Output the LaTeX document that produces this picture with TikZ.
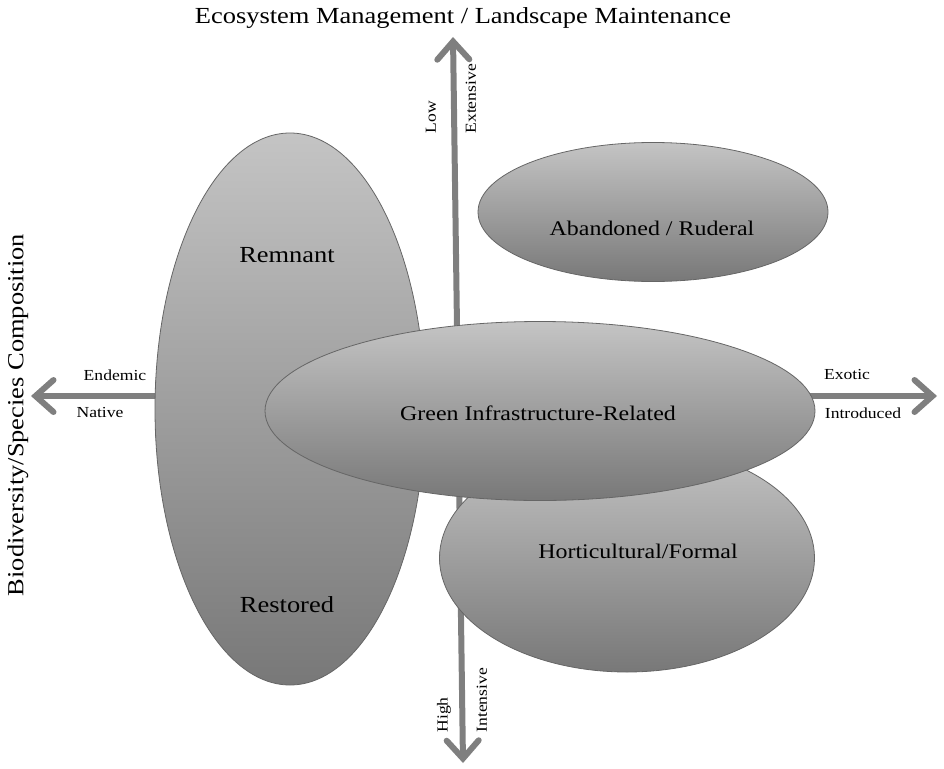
\documentclass[tikz,border=0pt]{standalone}
\usepackage{fontspec}
\setmainfont{Liberation Serif}[FakeStretch=1.15]
\usetikzlibrary{positioning, arrows.meta, shapes.geometric}
\definecolor{axisgray}{HTML}{7F7F7F}
\definecolor{blobtop}{HTML}{C4C4C4}
\definecolor{blobbottom}{HTML}{787878}
\definecolor{blobedge}{HTML}{666666}

\tikzset{
  axis/.style={line width=6pt, draw=axisgray, line cap=round,
    {Straight Barb[length=18pt, width=32pt, line cap=round]}-{Straight Barb[length=18pt, width=32pt, line cap=round]}},
  blob/.style={ellipse, draw=blobedge, line width=0.8pt,
    top color=blobtop, bottom color=blobbottom, inner sep=0pt},
  bigtag/.style={font=\fontsize{23}{26}\selectfont},
  tag/.style={font=\fontsize{20.8}{24}\selectfont},
  smalltag/.style={font=\fontsize{15.3}{18}\selectfont}
}

\begin{document}
\begin{tikzpicture}[x=1pt, y=-1pt]
  \useasboundingbox (0,0) rectangle (944,768);

  % axes
  \coordinate (west) at (31,396);
  \coordinate (east) at (937,396);
  \coordinate (north) at (453,37);
  \coordinate (south) at (463,763);
  \draw[axis] (west) -- (east);
  \draw[axis] (south) -- (north);

  % regions
  \node[blob, minimum width=270pt, minimum height=552pt] (remnant) at (290,409) {};
  \node[blob, minimum width=350pt, minimum height=139pt] (abandoned) at (653,212) {};
  \node[blob, minimum width=375pt, minimum height=228pt] (horti) at (627,558) {};
  \node[blob, minimum width=550pt, minimum height=179pt] (green) at (540,411) {};

  \node[bigtag] (remnanttxt) at (287,255) {Remnant};
  \node[bigtag] (restoredtxt) at (287,605) {Restored};
  \node[tag] (abandonedtxt) at (652,228) {Abandoned / Ruderal};
  \node[tag] (greentxt) at (538,413) {Green Infrastructure-Related};
  \node[tag] (hortitxt) at (638,551) {Horticultural/Formal};

  % axis titles
  \node[bigtag] (ecotitle) at (463,18) {Ecosystem Management / Landscape Maintenance};
  \node[bigtag, rotate=90] (biotitle) at (18,415) {Biodiversity/Species Composition};

  % axis ends
  \node[smalltag] (endemic) at (115,375) {Endemic};
  \node[smalltag] (native) at (100,413) {Native};
  \node[smalltag] (exotic) at (847,375) {Exotic};
  \node[smalltag] (introduced) at (863,413) {Introduced};
  \node[smalltag, rotate=90, anchor=west] (low) at (431,137) {Low};
  \node[smalltag, rotate=90, anchor=west] (extensive) at (471,137) {Extensive};
  \node[smalltag, rotate=90, anchor=west] (high) at (444,736) {High};
  \node[smalltag, rotate=90, anchor=west] (intensive) at (482,736) {Intensive};
\end{tikzpicture}
\end{document}
